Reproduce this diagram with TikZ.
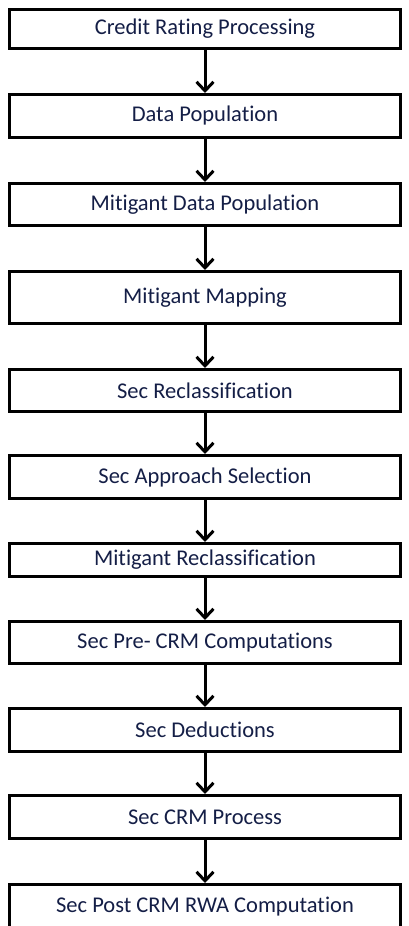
\documentclass[tikz,border=0pt]{standalone}
\usepackage{fontspec}
\setmainfont{Carlito}[Ligatures=NoCommon]
\usetikzlibrary{arrows.meta}
\definecolor{txtblue}{RGB}{20,30,70}
\begin{document}
\begin{tikzpicture}[x=1pt,y=-1pt,
  stepbox/.style={draw=black,line width=3pt,minimum width=391pt,inner sep=0pt,
    font=\fontsize{22.5}{26}\selectfont,text=txtblue},
  flow/.style={line width=3pt,-{Straight Barb[length=9pt,width=17pt,line width=3pt]}}]
\useasboundingbox (0,0) rectangle (408,926);
\foreach \n/\t/\b/\lab in {
  a/8/50/{Credit Rating Processing},
  b/93/139/{Data Population},
  c/182/227/{Mitigant Data Population},
  d/270/325/{Mitigant Mapping},
  e/368/413/{Sec Reclassification},
  f/454/500/{Sec Approach Selection},
  g/542/578/{Mitigant Reclassification},
  h/620/665/{Sec Pre- CRM Computations},
  i/707/753/{Sec Deductions},
  j/794/840/{Sec CRM Process},
  k/883/930/{Sec Post CRM RWA Computation}}{
  \pgfmathsetmacro{\cy}{(\t+\b)/2}
  \pgfmathsetmacro{\hh}{\b-\t-3}
  \node[stepbox,minimum height=\hh pt] (\n) at (205,\cy) {\lab};
}
\foreach \u/\v in {a/b,b/c,c/d,d/e,e/f,f/g,g/h,h/i,i/j,j/k}{
  \draw[flow] (\u.south) -- (\v.north);
}
\end{tikzpicture}
\end{document}
